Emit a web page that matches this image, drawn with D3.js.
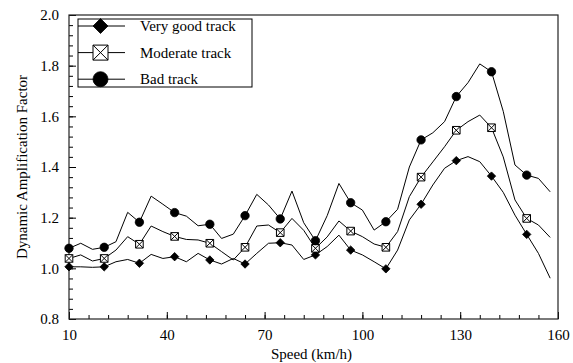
<!DOCTYPE html>
<html>
<head>
<meta charset="utf-8">
<script src="https://cdnjs.cloudflare.com/ajax/libs/d3/7.8.5/d3.min.js"></script>
<style>
  body { margin: 0; background: #fff; }
</style>
</head>
<body>
<svg id="chart"></svg>
<script>
//data
const speeds = [10, 13.6, 17.2, 20.8, 24.4, 28, 31.6, 35.2, 38.8, 42.4, 46, 49.6, 53.2, 56.8,
    60.4, 64, 67.6, 71.2, 74.8, 78.4, 82, 85.6, 89.2, 92.8, 96.4, 100, 103.6, 107.2,
    110.8, 114.4, 118, 121.6, 125.2, 128.8, 132.4, 136, 139.6, 143.2, 146.8, 150.4, 154, 157.6];

const veryGood = [1.006, 1.006, 1.004, 1.006, 1.026, 1.035, 1.020, 1.055, 1.039, 1.046, 1.026, 1.059, 1.033, 1.017,
    1.039, 1.017, 1.059, 1.099, 1.101, 1.092, 1.035, 1.053, 1.086, 1.131, 1.072, 1.053, 1.026, 0.998,
    1.072, 1.191, 1.253, 1.329, 1.395, 1.425, 1.441, 1.421, 1.364, 1.300, 1.210, 1.134, 1.059, 0.961];

const moderate = [1.039, 1.053, 1.029, 1.039, 1.072, 1.125, 1.095, 1.167, 1.145, 1.126, 1.114, 1.112, 1.099, 1.066,
    1.033, 1.083, 1.167, 1.171, 1.141, 1.197, 1.150, 1.079, 1.124, 1.187, 1.147, 1.125, 1.096, 1.083,
    1.145, 1.283, 1.360, 1.420, 1.480, 1.545, 1.579, 1.605, 1.555, 1.440, 1.270, 1.197, 1.171, 1.122];

const bad = [1.079, 1.099, 1.075, 1.083, 1.105, 1.221, 1.182, 1.285, 1.253, 1.220, 1.206, 1.168, 1.174, 1.118,
    1.135, 1.208, 1.292, 1.250, 1.195, 1.305, 1.180, 1.109, 1.208, 1.335, 1.259, 1.230, 1.151, 1.184,
    1.233, 1.400, 1.507, 1.535, 1.579, 1.678, 1.733, 1.807, 1.776, 1.620, 1.408, 1.368, 1.355, 1.302];

const seriesNames = ["Very good track", "Moderate track", "Bad track"];
const seriesMarkers = ["diamond", "square", "circle"];

const xTicks = [10, 40, 70, 100, 130, 160];
const yTicks = [0.8, 1.0, 1.2, 1.4, 1.6, 1.8, 2.0];

//constants
const W = 573, H = 363;
const margin = {top: 15, right: 15, bottom: 44, left: 69};
const width = W - margin.left - margin.right;
const height = H - margin.top - margin.bottom;
const markerEvery = 3;
const serif = "Liberation Serif";
const fontSize = 15;

//markers
function markerPath(type, r) {
    if (type === "diamond") {
        return "M0," + (-r) + "L" + r + ",0L0," + r + "L" + (-r) + ",0Z";
    }
    if (type === "square") {
        return "M" + (-r) + "," + (-r) + "H" + r + "V" + r + "H" + (-r) + "Z" +
            "M" + (-r) + "," + (-r) + "L" + r + "," + r +
            "M" + r + "," + (-r) + "L" + (-r) + "," + r;
    }
    return d3.arc()({innerRadius: 0, outerRadius: r, startAngle: 0, endAngle: 2 * Math.PI});
}

function drawMarker(g, type, r) {
    g.append("path")
        .attr("d", markerPath(type, r))
        .attr("fill", type === "square" ? "#fff" : "#000")
        .attr("stroke", "#000")
        .attr("stroke-width", type === "square" ? 1 : 0.8);
}

//scales
const xScale = d3.scaleLinear().domain([10, 160]).range([0, width]);
const yScale = d3.scaleLinear().domain([0.8, 2.0]).range([height, 0]);

//canvas
const svg = d3.select("#chart")
    .attr("width", W)
    .attr("height", H)
    .append("g")
    .attr("transform", "translate(" + margin.left + "," + margin.top + ")");

//minor ticks
svg.append("g")
    .attr("transform", "translate(0," + height + ")")
    .call(d3.axisBottom(xScale).tickValues(d3.range(16, 160, 6)).tickSize(-4).tickSizeOuter(0).tickFormat(""))
    .call(g => g.select(".domain").remove());

svg.append("g")
    .call(d3.axisLeft(yScale).tickValues(d3.range(0.84, 2.0, 0.04)).tickSize(-4).tickSizeOuter(0).tickFormat(""))
    .call(g => g.select(".domain").remove());

//axes
svg.append("g")
    .attr("transform", "translate(0," + height + ")")
    .call(d3.axisBottom(xScale).tickValues(xTicks).tickSize(-7).tickSizeOuter(0).tickPadding(10))
    .call(g => g.select(".domain").remove())
    .call(g => g.attr("font-family", serif).attr("font-size", fontSize));

svg.append("g")
    .call(d3.axisLeft(yScale).tickValues(yTicks).tickSize(-7).tickSizeOuter(0).tickPadding(10)
        .tickFormat(d3.format(".1f")))
    .call(g => g.select(".domain").remove())
    .call(g => g.attr("font-family", serif).attr("font-size", fontSize));

//frame
svg.append("rect")
    .attr("width", width)
    .attr("height", height)
    .attr("fill", "none")
    .attr("stroke", "#222")
    .attr("stroke-width", 1.2);

//axes labels
svg.append("text")
    .attr("x", width / 2 - 2)
    .attr("y", height + 40)
    .attr("font-family", serif)
    .attr("font-size", fontSize)
    .style("text-anchor", "middle")
    .text("Speed (km/h)");

svg.append("text")
    .attr("transform", "translate(" + (-42) + "," + (height / 2) + ") rotate(-90)")
    .attr("font-family", serif)
    .attr("font-size", fontSize)
    .style("text-anchor", "middle")
    .text("Dynamic Amplification Factor");

//lines
const allSeries = [veryGood, moderate, bad];
const line = d3.line()
    .x((d, i) => xScale(speeds[i]))
    .y(d => yScale(d));

allSeries.forEach(function(values, s) {
    svg.append("path")
        .datum(values)
        .attr("fill", "none")
        .attr("stroke", "#000")
        .attr("stroke-width", 1)
        .attr("d", line);

    values.forEach(function(v, i) {
        if (i % markerEvery !== 0) return;
        let g = svg.append("g")
            .attr("transform", "translate(" + xScale(speeds[i]) + "," + yScale(v) + ")");
        drawMarker(g, seriesMarkers[s], s === 1 ? 3.8 : 4.2);
    });
});

//legend
const legend = svg.append("g")
    .attr("transform", "translate(" + 9 + "," + 4 + ")");

legend.append("rect")
    .attr("width", 174)
    .attr("height", 68)
    .attr("fill", "#fff")
    .attr("stroke", "#000")
    .attr("stroke-width", 1);

seriesNames.forEach(function(name, i) {
    let yy = 7 + i * 26.6;
    legend.append("line")
        .attr("x1", 0)
        .attr("x2", 47)
        .attr("y1", yy)
        .attr("y2", yy)
        .attr("stroke", "#000");
    let g = legend.append("g").attr("transform", "translate(" + 22.5 + "," + yy + ")");
    drawMarker(g, seriesMarkers[i], 7.5);
    legend.append("text")
        .attr("x", 62)
        .attr("y", yy)
        .attr("dy", "0.35em")
        .attr("font-family", serif)
        .attr("font-size", fontSize)
        .text(name);
});
</script>
</body>
</html>
